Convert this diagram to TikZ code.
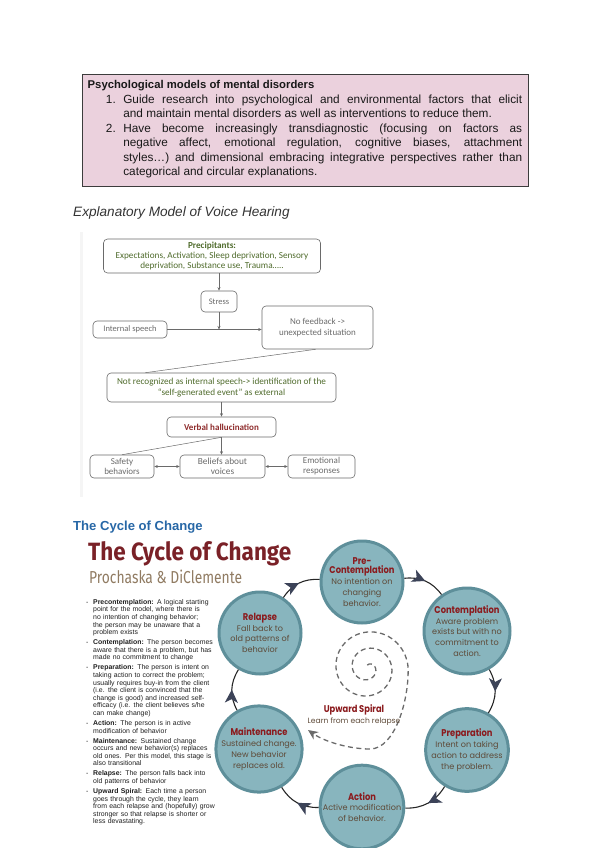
\documentclass[tikz,border=0pt]{standalone}
\usepackage{fontspec}
\setmainfont{Liberation Sans}
\newfontfamily\flowfont{Carlito}
\newfontfamily\cyfont{Poppins}
\newfontfamily\cyheadfont{Poppins}[FakeStretch=0.85]
\newfontfamily\titlefont{Fira Sans}[FakeStretch=0.9]
\newfontfamily\subfont{Fira Sans}[FakeStretch=0.8]
\usetikzlibrary{arrows.meta,decorations.markings,calc}
\definecolor{boxpink}{HTML}{EBD1DD}
\definecolor{boxline}{HTML}{3C3C3C}
\definecolor{flowgreen}{HTML}{4F6B2C}
\definecolor{flowgray}{HTML}{6A6A6A}
\definecolor{flowred}{HTML}{8E2B2B}
\definecolor{cyblue}{HTML}{2767A6}
\definecolor{cytitle}{HTML}{7A2127}
\definecolor{cysub}{HTML}{907B62}
\definecolor{cyfill}{HTML}{88B5BE}
\definecolor{cyedge}{HTML}{5E8F9A}
\definecolor{cyred}{HTML}{8B1B1E}
\definecolor{cybrown}{HTML}{5E4A38}
\definecolor{cyarrow}{HTML}{3C4358}
\definecolor{spiralgray}{HTML}{6A6A6A}
\newcommand\sthead[1]{{\cyheadfont\bfseries\color{cyred}\fontsize{9.8}{10}\selectfont #1}}
\newcommand\bitem[1]{\makebox[7pt][l]{-}#1}
\newcommand\bcont[1]{\hspace*{7pt}#1}
\tikzset{
  fbox/.style={draw=flowgray, rounded corners=4pt, line width=0.6pt, inner sep=1pt, align=center,
    text=flowgray, font=\flowfont\fontsize{8.5}{9.5}\selectfont},
  flowline/.style={draw=flowgray, line width=0.5pt},
  flowarr/.style={flowline, -{Stealth[length=3.5pt,width=3pt]}},
  flowdbl/.style={flowline, {Stealth[length=3.5pt,width=3pt]}-{Stealth[length=3.5pt,width=3pt]}},
  stage/.style={circle, fill=cyfill, draw=cyedge, line width=3pt, minimum size=82pt, inner sep=0pt,
    align=center, text=cybrown, font=\cyfont\fontsize{8.1}{10.8}\selectfont},
  cyc/.style={draw=black!85, line width=1.1pt},
  midarr/.style={postaction={decorate}, decoration={markings,
    mark=at position 0.5 with {\arrow{Stealth[length=13pt,width=13pt,inset=3.5pt,color=cyarrow]}}}}
}
\begin{document}
\begin{tikzpicture}[x=1pt,y=1pt]
\useasboundingbox (0,0) rectangle (600,-848);
% top box
\node[draw=boxline, fill=boxpink, line width=1.2pt, minimum width=446pt, minimum height=112pt,
  anchor=north west, inner sep=0pt] (pbox) at (82,-74) {};
\node[anchor=north west, inner sep=0pt, text width=434.5pt, align=justify,
  font=\fontsize{11.8}{14.45}\selectfont, text=black!90] (ptext) at (87.5,-80.5) {%
\noindent{\bfseries\fontsize{11.3}{14.45}\selectfont Psychological models of mental disorders}\par
\leftskip=35.6pt
\noindent\llap{1.\hspace{7.5pt}}Guide research into psychological and environmental factors that elicit\linebreak and maintain mental disorders as well as interventions to reduce them.\par
\noindent\llap{2.\hspace{7.5pt}}Have become increasingly transdiagnostic (focusing on factors as\linebreak negative affect, emotional regulation, cognitive biases, attachment\linebreak styles…) and dimensional embracing integrative perspectives rather than\linebreak categorical and circular explanations.\par};
% voice hearing
\node[anchor=base west, inner sep=0pt, font=\itshape\fontsize{13.6}{15}\selectfont, text=black!80] (vhtitle) at (73,-216) {Explanatory Model of Voice Hearing};
\fill[black!4] (80,-232) rectangle (83,-497);
\node[fbox, minimum width=217pt, minimum height=34pt, text=flowgreen, font=\flowfont\fontsize{9.2}{9.6}\selectfont] (prec) at (212,-256)
  {\textbf{Precipitants:}\\Expectations, Activation, Sleep deprivation, Sensory\\deprivation, Substance use, Trauma…..};
\node[fbox, minimum width=36pt, minimum height=21pt] (stress) at (219,-301.5) {Stress};
\node[fbox, minimum width=74pt, minimum height=17pt] (is) at (130,-329.5) {Internal speech};
\node[fbox, minimum width=111pt, minimum height=43pt, font=\flowfont\fontsize{9}{11}\selectfont] (nf) at (317.5,-327.5) {No feedback ->\\unexpected situation};
\node[fbox, minimum width=229pt, minimum height=29pt, text=flowgreen, font=\flowfont\fontsize{9.2}{10.5}\selectfont] (nr) at (221.5,-387.5)
  {Not recognized as internal speech-> identification of the\\“self-generated event” as external};
\node[fbox, minimum width=109pt, minimum height=20pt, text=flowred, font=\flowfont\fontsize{9}{10}\selectfont] (vh) at (221.5,-427) {\textbf{Verbal hallucination}};
\node[fbox, minimum width=64pt, minimum height=23pt, font=\flowfont\fontsize{9}{10}\selectfont] (sb) at (122,-466.5) {Safety\\behaviors};
\node[fbox, minimum width=85pt, minimum height=23pt, font=\flowfont\fontsize{9.3}{10}\selectfont] (bl) at (222.5,-466.5) {Beliefs about\\voices};
\node[fbox, minimum width=67pt, minimum height=23pt, font=\flowfont\fontsize{9}{10}\selectfont] (er) at (321.5,-466.5) {Emotional\\responses};
\coordinate (jn) at (stress.south |- is.east);
\draw[flowarr] (prec.south -| stress.north) -- (stress.north);
\draw[flowarr] (stress.south) -- (jn);
\draw[flowarr] (is.east) -- (is.east -| nf.west);
\draw[flowline] (nf.265) -- (nr.169);
\draw[flowarr] (nr.south) -- (vh.north);
\draw[flowarr] (vh.south) -- (vh.south |- bl.north);
\draw[flowline] (sb.north) -- (vh.south);
\draw[flowdbl] (sb.east) -- (bl.west);
\draw[flowdbl] (bl.east) -- (er.west);
% cycle of change
\node[anchor=base west, inner sep=0pt, font=\bfseries\fontsize{13.1}{14}\selectfont, text=cyblue] (cyh) at (73,-530) {The Cycle of Change};
\node[anchor=base west, inner sep=0pt, font=\titlefont\bfseries\fontsize{25}{25}\selectfont, text=cytitle] (cyt) at (88,-560) {The Cycle of Change};
\node[anchor=base west, inner sep=0pt, font=\subfont\fontsize{17.3}{17}\selectfont, text=cysub] (cys) at (89,-583) {Prochaska \& DiClemente};
\node[anchor=north west, inner sep=0pt, text width=150pt, align=left,
  font=\fontsize{6.9}{7.6}\selectfont, text=black!88] (bul) at (86,-599) {%
\bitem{\textbf{Precontemplation:} A logical starting}\\
\bcont{point for the model, where there is}\\
\bcont{no intention of changing behavior;}\\
\bcont{the person may be unaware that a}\\
\bcont{problem exists}\\[2.4pt]
\bitem{\textbf{Contemplation:} The person becomes}\\
\bcont{aware that there is a problem, but has}\\
\bcont{made no commitment to change}\\[2.4pt]
\bitem{\textbf{Preparation:} The person is intent on}\\
\bcont{taking action to correct the problem;}\\
\bcont{usually requires buy-in from the client}\\
\bcont{(i.e. the client is convinced that the}\\
\bcont{change is good) and increased self-}\\
\bcont{efficacy (i.e. the client believes s/he}\\
\bcont{can make change)}\\[2.4pt]
\bitem{\textbf{Action:} The person is in active}\\
\bcont{modification of behavior}\\[2.4pt]
\bitem{\textbf{Maintenance:} Sustained change}\\
\bcont{occurs and new behavior(s) replaces}\\
\bcont{old ones. Per this model, this stage is}\\
\bcont{also transitional}\\[2.4pt]
\bitem{\textbf{Relapse:} The person falls back into}\\
\bcont{old patterns of behavior}\\[2.4pt]
\bitem{\textbf{Upward Spiral:} Each time a person}\\
\bcont{goes through the cycle, they learn}\\
\bcont{from each relapse and (hopefully) grow}\\
\bcont{stronger so that relapse is shorter or}\\
\bcont{less devastating.}};
% spiral
\draw[draw=spiralgray, line width=1.3pt, dash pattern=on 5pt off 3.5pt, -{Stealth[length=10pt,width=9pt]}]
  plot[domain=0.3:14.66, samples=220, smooth, variable=\t]
  ({368+(2+2.6*\t)*cos(\t r-120)}, {-668-(2+2.6*\t)*sin(\t r-120)})
  .. controls (409,-700) and (395,-749) .. (370,-749)
  .. controls (350,-749) and (325,-742) .. (308,-730);
\node[inner sep=0pt, font=\cyheadfont\bfseries\fontsize{9.8}{10}\selectfont, text=cyred] (ust) at (354,-710) {Upward Spiral};
\node[inner sep=0pt, font=\cyfont\fontsize{7.6}{9}\selectfont, text=cybrown] (usl) at (354,-722) {Learn from each relapse};
% stages
\node[stage] (pre) at (362,-582) {\sthead{Pre-}\\[-1.5pt]\sthead{Contemplation}\\[0pt]No intention on\\changing\\behavior.};
\node[stage] (con) at (467,-631) {\sthead{Contemplation}\\[0pt]Aware problem\\exists but with no\\commitment to\\action.};
\node[stage] (prep) at (467,-750) {\sthead{Preparation}\\[0pt]Intent on taking\\action to address\\the problem.};
\node[stage] (act) at (362,-807) {\sthead{Action}\\[0pt]Active modification\\of behavior.};
\node[stage] (mnt) at (259,-749) {\sthead{Maintenance}\\[0pt]Sustained change.\\New behavior\\replaces old.};
\node[stage] (rel) at (260,-633) {\sthead{Relapse}\\[0pt]Fall back to\\old patterns of\\behavior};
\draw[cyc, midarr] (pre) to[bend left=30] (con);
\draw[cyc, midarr] (con) to[bend left=30] (prep);
\draw[cyc, midarr] (prep) to[bend left=30] (act);
\draw[cyc, midarr] (act) to[bend left=30] (mnt);
\draw[cyc, midarr] (mnt) to[bend left=30] (rel);
\draw[cyc, midarr] (rel) to[bend left=30] (pre);
\end{tikzpicture}
\end{document}
